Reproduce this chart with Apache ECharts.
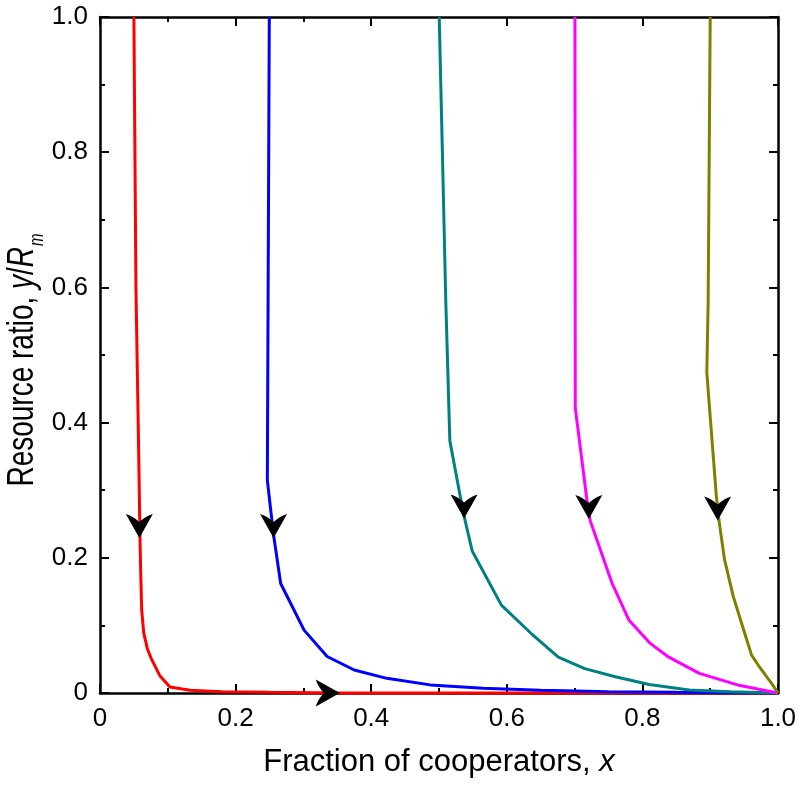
<!DOCTYPE html>
<html><head><meta charset="utf-8">
<script src="https://cdn.jsdelivr.net/npm/echarts@6/dist/echarts.min.js"></script>
<style>html,body{margin:0;padding:0;background:#fff}#c{width:800px;height:785px}</style>
</head><body><div id="c"></div>
<script>
// Tick labels
const xTickLabels = {0: '0', 0.2: '0.2', 0.4: '0.4', 0.6: '0.6', 0.8: '0.8', 1: '1.0'};
const yTickLabels = {0: '0', 0.2: '0.2', 0.4: '0.4', 0.6: '0.6', 0.8: '0.8', 1: '1.0'};

// Trajectories (x = fraction of cooperators, y = resource ratio)
const redX = [0.050, 0.053, 0.057, 0.059, 0.060, 0.0615, 0.0645, 0.070, 0.076, 0.088, 0.103, 0.133, 0.18, 0.25, 0.35, 0.5, 0.7, 1.0];
const redY = [1.0, 0.6, 0.36, 0.229, 0.18, 0.123, 0.089, 0.065, 0.05, 0.026, 0.009, 0.004, 0.002, 0.001, 0, 0, 0, 0];

const blueX = [0.2497, 0.248, 0.2468, 0.2557, 0.2665, 0.301, 0.335, 0.375, 0.423, 0.487, 0.565, 0.65, 0.75, 0.85, 1.0];
const blueY = [1.0, 0.6, 0.315, 0.236, 0.162, 0.093, 0.054, 0.034, 0.0217, 0.012, 0.007, 0.004, 0.002, 0.001, 0];

const tealX = [0.5003, 0.505, 0.510, 0.516, 0.536, 0.549, 0.592, 0.636, 0.676, 0.715, 0.760, 0.810, 0.869, 0.93, 1.0];
const tealY = [1.0, 0.8, 0.58, 0.373, 0.266, 0.21, 0.13, 0.088, 0.053, 0.036, 0.024, 0.0126, 0.0045, 0.002, 0];

const magentaX = [0.7005, 0.701, 0.718, 0.723, 0.755, 0.780, 0.812, 0.839, 0.884, 0.944, 1.0];
const magentaY = [1.0, 0.422, 0.287, 0.255, 0.163, 0.108, 0.073, 0.053, 0.029, 0.011, 0];

const oliveX = [0.900, 0.897, 0.895, 0.909, 0.913, 0.921, 0.934, 0.951, 0.961, 0.971, 0.991, 1.0];
const oliveY = [1.0, 0.58, 0.474, 0.292, 0.255, 0.198, 0.143, 0.088, 0.056, 0.041, 0.0136, 0];

// Direction arrows (centre positions and rotation)
const arrowX = [0.058, 0.256, 0.537, 0.721, 0.911, 0.336];
const arrowY = [0.247, 0.247, 0.276, 0.275, 0.273, 0];
const arrowAngle = [0, 0, 0, 0, 0, 90];

const zip = (xs, ys) => xs.map((x, i) => [x, ys[i]]);
const font = 'Liberation Sans, Arial, sans-serif';

const curves = [
  {data: zip(redX, redY), color: '#ff0000'},
  {data: zip(blueX, blueY), color: '#0000ff'},
  {data: zip(tealX, tealY), color: '#008080'},
  {data: zip(magentaX, magentaY), color: '#ff00ff'},
  {data: zip(oliveX, oliveY), color: '#808000'}
];

// down-pointing barbed arrowhead
const arrowPath = 'path://M0,0 Q7,2 13.5,8 Q20,2 27,0 L13.5,24 Z';

const axisLine = {show: true, onZero: false, lineStyle: {color: '#000', width: 2.5}};
const axisTick = {show: true, inside: true, length: 9, lineStyle: {color: '#000', width: 2}};
const minorTick = {show: true, splitNumber: 2, length: 5, lineStyle: {color: '#000', width: 2}};

const chart = echarts.init(document.getElementById('c'), null, {renderer: 'canvas'});
chart.setOption({
  backgroundColor: '#fff',
  animation: false,
  grid: {left: 100, right: 22, top: 17, bottom: 92, containLabel: false, outerBoundsMode: 'none'},
  graphic: [{
    type: 'text', x: 23, y: 360, rotation: Math.PI / 2, scaleY: 1.33, z: 10,
    style: {
      text: '{n|Resource ratio, }{i|y}{n|/}{i|R}{s|m}',
      align: 'center', verticalAlign: 'middle', fill: '#000',
      fontSize: 28, fontFamily: font,
      rich: {
        n: {fontSize: 28, fontFamily: font, fill: '#000'},
        i: {fontSize: 28, fontFamily: font, fill: '#000', fontStyle: 'italic'},
        s: {fontSize: 15, fontFamily: font, fill: '#000', fontStyle: 'italic', padding: [22, 0, 0, 1]}
      }
    }
  }],
  xAxis: [{
    type: 'value', min: 0, max: 1, interval: 0.2, position: 'bottom',
    axisLine, axisTick, minorTick, splitLine: {show: false},
    axisLabel: {color: '#000', fontSize: 26, fontFamily: font, margin: 13,
      formatter: v => xTickLabels[Math.round(v * 10) / 10] ?? ''},
    name: '{n|Fraction of cooperators, }{i|x}', nameLocation: 'middle', nameGap: 54,
    nameTextStyle: {color: '#000', fontSize: 31, fontFamily: font,
      rich: {n: {fontSize: 31, fontFamily: font, color: '#000'}, i: {fontSize: 31, fontFamily: font, color: '#000', fontStyle: 'italic'}}}
  }, {
    type: 'value', min: 0, max: 1, interval: 0.2, position: 'top',
    axisLine, axisTick, minorTick, splitLine: {show: false}, axisLabel: {show: false}
  }],
  yAxis: [{
    type: 'value', min: 0, max: 1, interval: 0.2, position: 'left',
    axisLine, axisTick, minorTick, splitLine: {show: false},
    axisLabel: {color: '#000', fontSize: 26, fontFamily: font, margin: 12,
      formatter: v => yTickLabels[Math.round(v * 10) / 10] ?? ''}
  }, {
    type: 'value', min: 0, max: 1, interval: 0.2, position: 'right',
    axisLine, axisTick, minorTick, splitLine: {show: false}, axisLabel: {show: false}
  }],
  series: curves.map(c => ({
    type: 'line', data: c.data, showSymbol: false, symbol: 'none', clip: false,
    lineStyle: {color: c.color, width: 3}, itemStyle: {color: c.color}, z: 3
  })).concat([{
    type: 'scatter', symbol: arrowPath, symbolSize: [27, 24], clip: false, z: 5,
    itemStyle: {color: '#000', opacity: 1},
    data: arrowX.map((x, i) => ({value: [x, arrowY[i]], symbolRotate: arrowAngle[i]}))
  }])
});
</script></body></html>
